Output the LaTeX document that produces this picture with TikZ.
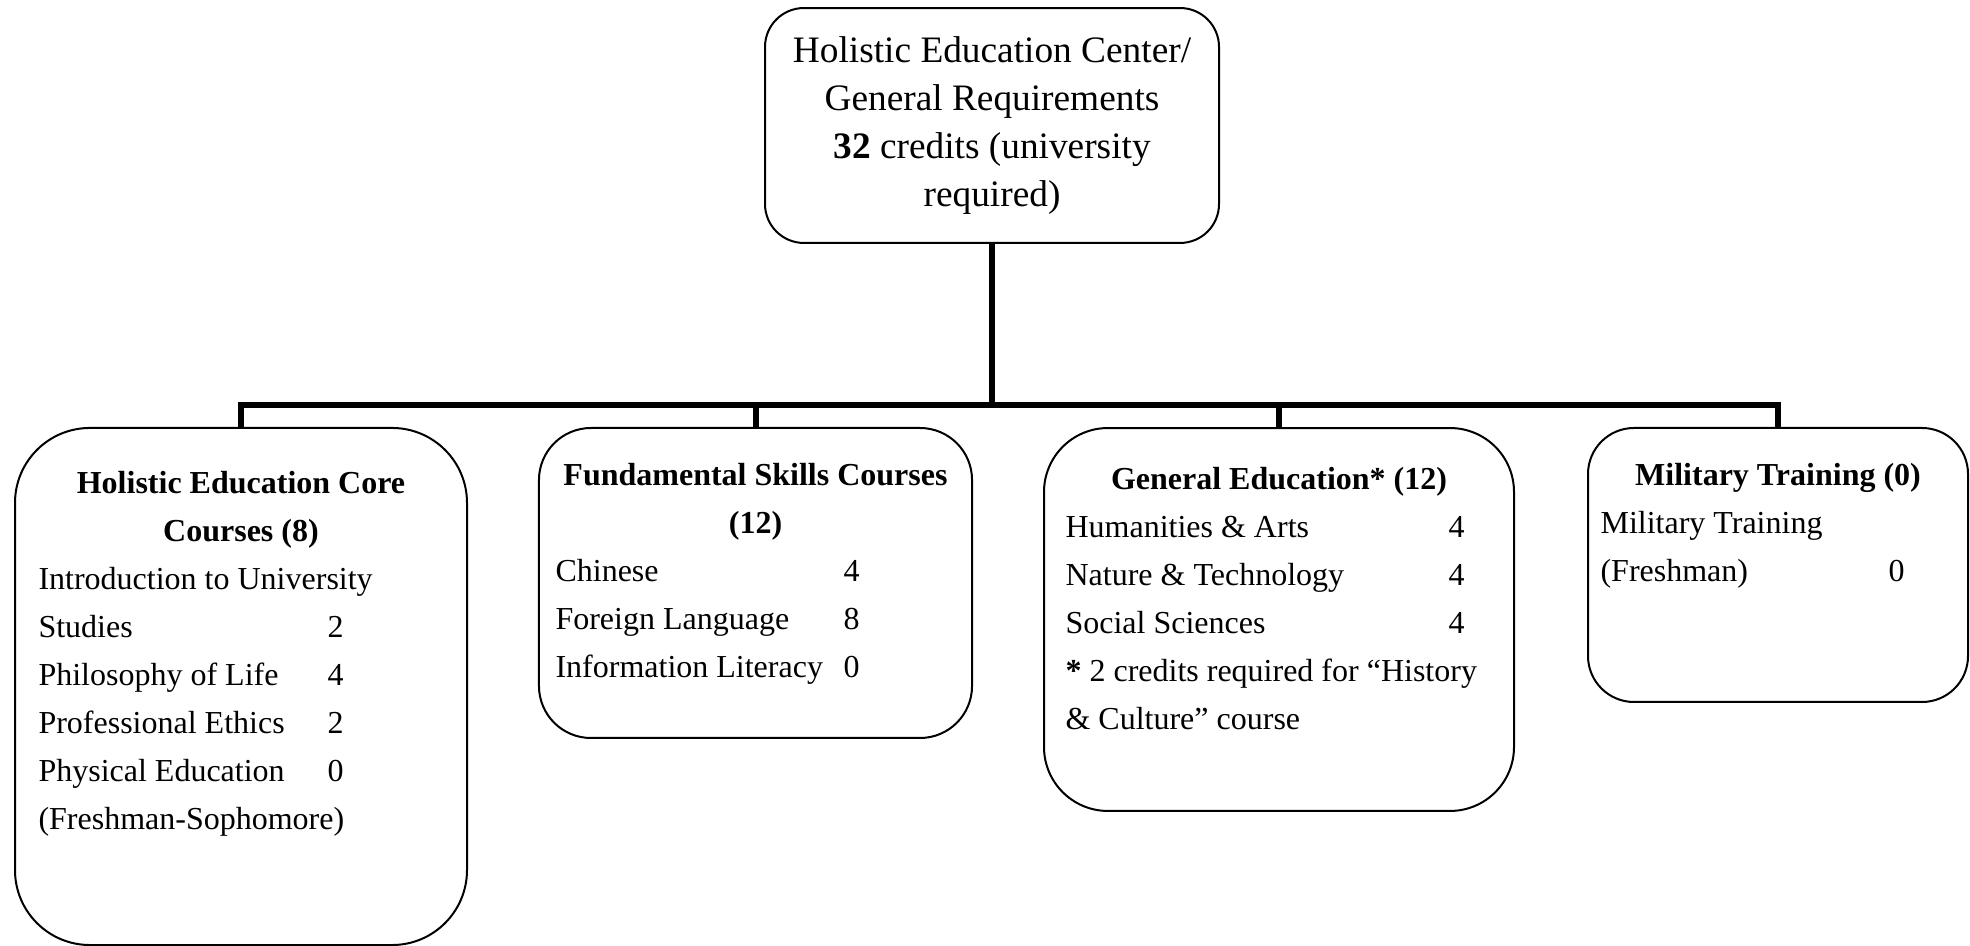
\documentclass[tikz,border=0pt]{standalone}
\usepackage{fontspec}
\setmainfont{Liberation Serif}

\tikzset{
  box/.style={draw, line width=0.75pt, inner sep=0pt},
  conn/.style={line width=2.25pt},
  txt/.style={anchor=base west, inner sep=0pt, font=\fontsize{12}{14}\selectfont},
  head/.style={anchor=base, inner sep=0pt, font=\fontsize{12}{14}\selectfont\bfseries},
}

\begin{document}
\begin{tikzpicture}[x=0.375pt,y=0.375pt,yscale=-1]
\useasboundingbox (0,0) rectangle (1970,946);

%Shape: Rounded Rect [id:top]
\node (top) [box, rounded corners=14.6pt, minimum width=170.25pt, minimum height=88.1pt, align=center, font=\fontsize{14}{18}\selectfont] at (992,125.5) {Holistic Education Center/\\General Requirements\\\textbf{32} credits (university\\required)};
%Shape: Rounded Rect [id:core]
\node (core) [box, rounded corners=28.1pt, minimum width=169.5pt, minimum height=193.9pt] at (241,686.5) {};
%Shape: Rounded Rect [id:skills]
\node (skills) [box, rounded corners=19.5pt, minimum width=162.4pt, minimum height=116.25pt] at (755.5,583) {};
%Shape: Rounded Rect [id:gened]
\node (gened) [box, rounded corners=24pt, minimum width=176.25pt, minimum height=143.6pt] at (1279,619.5) {};
%Shape: Rounded Rect [id:military]
\node (military) [box, rounded corners=17.25pt, minimum width=142.5pt, minimum height=102.75pt] at (1778,565) {};

%Straight Lines [id:tree]
\coordinate (bar) at (992,405);
\draw [conn] (top.south) -- (bar);
\draw [conn] (core.north) |- (bar) -| (military.north);
\draw [conn] (skills.north) -- (skills.north |- bar);
\draw [conn] (gened.north) -- (gened.north |- bar);

% Text Node
\node (coreH1) [head] at (241,494) {Holistic Education Core};
\node (coreH2) [head] at (241,542) {Courses (8)};
\node (core1) [txt] at (38,590) {Introduction to University};
\node (core2) [txt] at (38,638) {Studies};
\node (core2n) [txt] at (327,638) {2};
\node (core3) [txt] at (38,686) {Philosophy of Life};
\node (core3n) [txt] at (327,686) {4};
\node (core4) [txt] at (38,734) {Professional Ethics};
\node (core4n) [txt] at (327,734) {2};
\node (core5) [txt] at (38,782) {Physical Education};
\node (core5n) [txt] at (327,782) {0};
\node (core6) [txt] at (38,830) {(Freshman-Sophomore)};

% Text Node
\node (skillsH1) [head] at (755.5,486) {Fundamental Skills Courses};
\node (skillsH2) [head] at (755.5,534) {(12)};
\node (skills1) [txt] at (555,582) {Chinese};
\node (skills1n) [txt] at (843,582) {4};
\node (skills2) [txt] at (555,630) {Foreign Language};
\node (skills2n) [txt] at (843,630) {8};
\node (skills3) [txt] at (555,678) {Information Literacy};
\node (skills3n) [txt] at (843,678) {0};

% Text Node
\node (genedH) [head] at (1279,490) {General Education* (12)};
\node (gened1) [txt] at (1065,538) {Humanities \& Arts};
\node (gened1n) [txt] at (1448,538) {4};
\node (gened2) [txt] at (1065,586) {Nature \& Technology};
\node (gened2n) [txt] at (1448,586) {4};
\node (gened3) [txt] at (1065,634) {Social Sciences};
\node (gened3n) [txt] at (1448,634) {4};
\node (gened4) [txt] at (1065,682) {\textbf{*} 2 credits required for ``History};
\node (gened5) [txt] at (1065,730) {\& Culture'' course};

% Text Node
\node (militaryH) [head] at (1778,486) {Military Training (0)};
\node (military1) [txt] at (1600,534) {Military Training};
\node (military2) [txt] at (1600,582) {(Freshman)};
\node (military2n) [txt] at (1888,582) {0};

\end{tikzpicture}
\end{document}
